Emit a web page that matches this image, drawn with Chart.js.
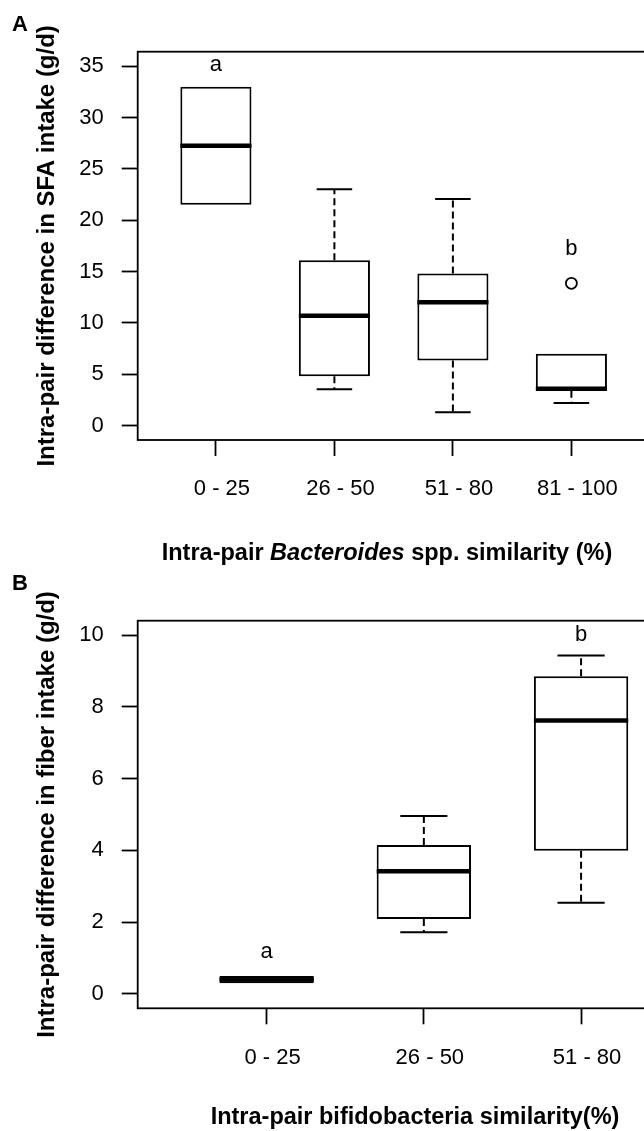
<!DOCTYPE html>
<html>
<head>
<meta charset="utf-8">
<script src="https://cdn.jsdelivr.net/npm/chart.js@4.4.0/dist/chart.umd.min.js"></script>
<style>
html,body{margin:0;padding:0;background:#fff;overflow:hidden;width:644px;height:1131px}
canvas{position:absolute;left:0}
#chartA{top:0}
#chartB{top:570px}
</style>
</head>
<body>
<canvas id="chartA" width="720" height="570"></canvas>
<canvas id="chartB" width="720" height="561"></canvas>
<script>
// panel A - SFA intake by Bacteroides similarity
const catsA=['0 - 25','26 - 50','51 - 80','81 - 100']
const lowA=[21.5,3.55,1.3,2.2]
const q1A=[21.5,4.8,6.35,3.4]
const medA=[27.25,10.7,12.0,3.6]
const q3A=[33.0,16.1,14.8,7.0]
const highA=[33.0,23.0,22.05,7.0]
const outA=[{x:4,y:13.85}]
const yTicksA=[0,5,10,15,20,25,30,35]
const lettersA=[['a',1,35.1],['b',4,17.2]]

// panel B - fiber intake by bifidobacteria similarity
const catsB=['0 - 25','26 - 50','51 - 80']
const lowB=[0.3,1.72,2.54]
const q1B=[0.3,2.09,3.99]
const medB=[0.4,3.42,7.62]
const q3B=[0.5,4.15,8.85]
const highB=[0.5,4.96,9.43]
const yTicksB=[0,2,4,6,8,10]
const lettersB=[['a',1,1.18],['b',3,10.0]]

const F='"Liberation Sans", Arial, Helvetica, sans-serif'

const boxPlugin={
  id:'boxes',
  afterDatasetsDraw(chart,args,o){
    const {ctx,chartArea:a,scales:{x,y}}=chart
    ctx.save()
    ctx.strokeStyle='#000'
    ctx.fillStyle='#000'
    for(let i=0;i<o.med.length;i++){
      const cx=x.getPixelForValue(i+1)
      const half=x.getPixelForValue(i+1.3)-cx
      const cap=half/2
      ctx.lineWidth=2
      ctx.setLineDash([7,4])
      ctx.beginPath()
      if(o.high[i]>o.q3[i]){
        ctx.moveTo(cx,y.getPixelForValue(o.q3[i]))
        ctx.lineTo(cx,y.getPixelForValue(o.high[i]))
      }
      if(o.low[i]<o.q1[i]){
        ctx.moveTo(cx,y.getPixelForValue(o.q1[i]))
        ctx.lineTo(cx,y.getPixelForValue(o.low[i]))
      }
      ctx.stroke()
      ctx.setLineDash([])
      ctx.beginPath()
      if(o.high[i]>o.q3[i]){
        const yy=y.getPixelForValue(o.high[i])
        ctx.moveTo(cx-cap,yy);ctx.lineTo(cx+cap,yy)
      }
      if(o.low[i]<o.q1[i]){
        const yy=y.getPixelForValue(o.low[i])
        ctx.moveTo(cx-cap,yy);ctx.lineTo(cx+cap,yy)
      }
      ctx.stroke()
      ctx.lineWidth=4.5
      ctx.lineCap='butt'
      ctx.beginPath()
      const ym=y.getPixelForValue(o.med[i])
      ctx.moveTo(cx-half,ym);ctx.lineTo(cx+half,ym)
      ctx.stroke()
    }
    // frame
    ctx.lineWidth=1.8
    ctx.strokeRect(a.left,a.top,a.width,a.height)
    // group letters
    ctx.font='22px '+F
    ctx.textAlign='center'
    ctx.textBaseline='middle'
    o.letters.forEach(l=>ctx.fillText(l[0],x.getPixelForValue(l[1]),y.getPixelForValue(l[2])))
    // panel letter
    ctx.font='bold 22px '+F
    ctx.textAlign='left'
    ctx.fillText(o.panel,12,o.panelY)
    // x title, mixed fonts
    let w=0
    o.xtitle.forEach(p=>{ctx.font=p[1]+' 23.5px '+F;w+=ctx.measureText(p[0]).width})
    let tx=o.xtitleX-w/2
    o.xtitle.forEach(p=>{ctx.font=p[1]+' 23.5px '+F;ctx.fillText(p[0],tx,o.xtitleY);tx+=ctx.measureText(p[0]).width})
    ctx.restore()
  }
}

function makeChart(id,cats,low,q1,med,q3,high,outs,yTicks,letters,ymin,ymax,xmin,xmax,padTop,padRight,xHeight,ytitle,extra){
  const fills=cats.map((c,i)=>q3[i]-q1[i]<0.5?'#000':'#fff')
  const datasets=[{
    type:'bar',
    data:cats.map((c,i)=>({x:i+1,y:[q1[i],q3[i]]})),
    backgroundColor:fills,
    borderColor:'#000',
    borderWidth:2,
    borderSkipped:false,
    barPercentage:0.6,
    categoryPercentage:1
  }]
  if(outs.length){
    datasets.push({
      type:'line',
      data:outs,
      showLine:false,
      pointRadius:5.5,
      pointBorderWidth:1.8,
      pointBorderColor:'#000',
      pointBackgroundColor:'#fff'
    })
  }
  return new Chart(document.getElementById(id),{
    data:{datasets},
    options:{
      responsive:false,
      animation:false,
      layout:{padding:{top:padTop,right:padRight,left:0,bottom:0}},
      plugins:{
        legend:{display:false},
        tooltip:{enabled:false},
        boxes:Object.assign({low,q1,med,q3,high,letters},extra)
      },
      scales:{
        x:{
          type:'linear',min:xmin,max:xmax,offset:false,
          afterBuildTicks:s=>{s.ticks=cats.map((c,i)=>({value:i+1}))},
          afterFit:s=>{s.height=xHeight},
          grid:{offset:false,drawOnChartArea:false,tickLength:16,tickWidth:1.8,tickColor:'#000'},
          border:{display:false},
          ticks:{callback:(v,i)=>cats[i],labelOffset:6,padding:20,color:'#000',
            font:{size:22,family:F},autoSkip:false,maxRotation:0}
        },
        y:{
          min:ymin,max:ymax,
          afterBuildTicks:s=>{s.ticks=yTicks.map(v=>({value:v}))},
          afterFit:s=>{s.width=137.7},
          grid:{drawOnChartArea:false,tickLength:16,tickWidth:1.8,tickColor:'#000'},
          border:{display:false},
          ticks:{color:'#000',font:{size:22,family:F},padding:18},
          title:{display:true,text:ytitle,color:'#000',
            font:{size:24,weight:'bold',family:F},padding:{top:33,bottom:0}}
        }
      }
    },
    plugins:[boxPlugin]
  })
}

makeChart('chartA',catsA,lowA,q1A,medA,q3A,highA,outA,yTicksA,lettersA,
  -1.4,36.4,0.34,4.66,51.7,70.4,130,'Intra-pair difference in SFA intake (g/d)',
  {panel:'A',panelY:25,xtitleX:387,xtitleY:554,
   xtitle:[['Intra-pair ','bold'],['Bacteroides','italic bold'],[' spp. similarity (%)','bold']]})

makeChart('chartB',catsB,lowB,q1B,medB,q3B,highB,[],yTicksB,lettersB,
  -0.4,10.4,0.18,3.82,50.7,10,122.7,'Intra-pair difference in fiber intake (g/d)',
  {panel:'B',panelY:14,xtitleX:415,xtitleY:548,
   xtitle:[['Intra-pair bifidobacteria similarity(%)','bold']]})
</script>
</body>
</html>
